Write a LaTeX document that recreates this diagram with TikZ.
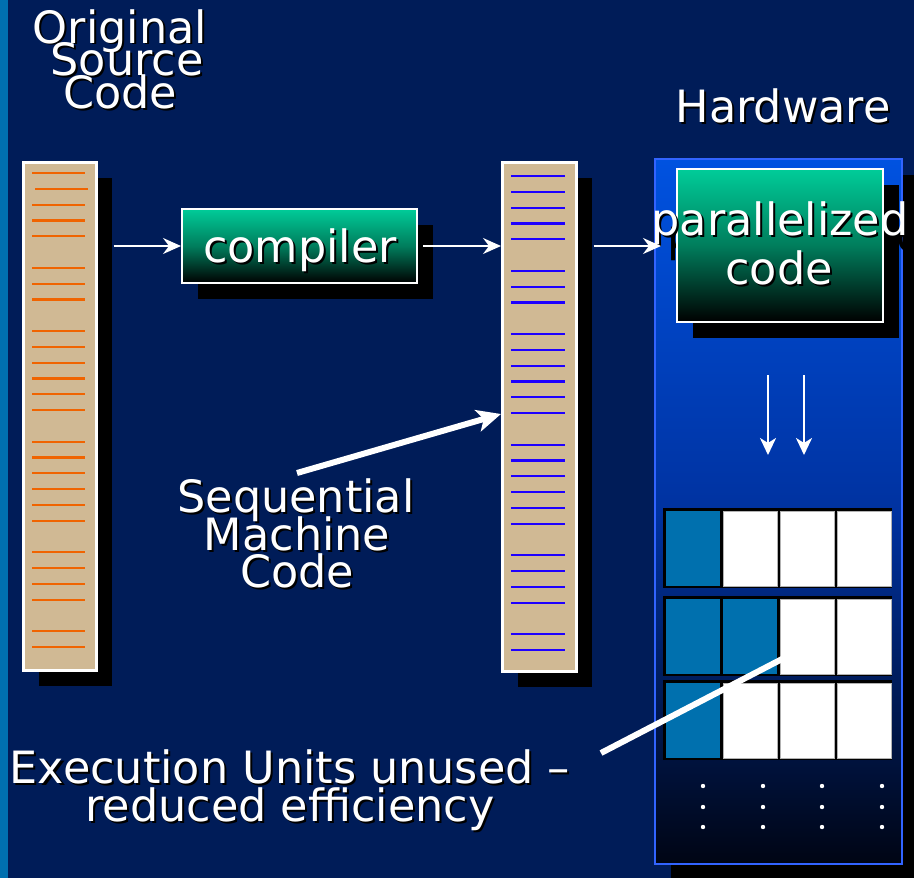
\documentclass[tikz,border=0pt]{standalone}
\usepackage{fontspec}
\setmainfont{DejaVu Sans}
\usetikzlibrary{arrows.meta,shadows}
\definecolor{bg}{RGB}{0,28,88}
\definecolor{strip}{RGB}{0,112,176}
\definecolor{tanfill}{RGB}{208,185,148}
\definecolor{orng}{RGB}{240,100,0}
\definecolor{blu}{RGB}{30,0,255}
\definecolor{gteal}{RGB}{0,204,153}
\definecolor{gmid}{RGB}{0,125,92}
\definecolor{hwtop}{RGB}{0,82,224}
\definecolor{hwmid}{RGB}{0,50,160}
\definecolor{hwbot}{RGB}{0,5,20}
\definecolor{hwedge}{RGB}{50,100,255}
\definecolor{cellblue}{RGB}{0,112,174}
\newcommand\shtxt[4]{%
  \node[txt,black] (#1s) at ({#2+2},{#3+2}) {#4};
  \node[txt,white] (#1) at (#2,#3) {#4};}
\begin{document}
\begin{tikzpicture}[x=1pt,y=-1pt,
  txt/.style={font=\fontsize{44.5}{44.5}\selectfont, inner sep=0pt, anchor=base},
  shd/.style={drop shadow={shadow xshift=16pt, shadow yshift=-16pt, opacity=1, fill=black}},
  col/.style={draw=white, fill=tanfill, line width=2.5pt, inner sep=0pt, anchor=north west, shd},
  gbox/.style={draw=white, line width=2pt, inner sep=0pt, top color=gteal, bottom color=black, middle color=gmid},
  oline/.style={orng, line width=2.2pt},
  bline/.style={blu, line width=2.2pt},
  thinarrow/.style={white, line width=2pt, -{Stealth[length=18pt,width=16pt,inset=6pt]}},
  downarrow/.style={white, line width=2.5pt, -{Stealth[length=17pt,width=16pt,inset=5pt]}},
  thickline/.style={white, line width=6pt},
  cell/.style={inner sep=0pt, minimum width=54.6pt, minimum height=75pt, anchor=north west},
  wcell/.style={cell, fill=white, draw=gray!60, line width=0.8pt},
  bcell/.style={cell, fill=cellblue},
]
\useasboundingbox (0,0) rectangle (914,878);
\fill[bg] (0,0) rectangle (914,878);
\fill[strip] (0,0) rectangle (8,878);

% titles
\shtxt{t1}{120}{43}{Original}
\shtxt{t2}{127}{75}{Source}
\shtxt{t3}{120}{108}{Code}
\shtxt{hwl}{783}{122}{Hardware}

% source code column
\node[col, minimum width=73pt, minimum height=508pt] (src) at (22,161) {};
\foreach \i in {0,2,3,4,6,7,8,10,11,12,13,14,15,17,18,19,20,21,22,24,25,26,27,29,30}
  \draw[oline] (32,{173+15.8*\i}) -- (85,{173+15.8*\i});
\draw[oline] (35,188.8) -- (88,188.8);

% machine code column
\node[col, minimum width=74pt, minimum height=509pt] (mach) at (501,161) {};
\foreach \i in {0,1,2,3,4,6,7,8,10,11,12,13,14,15,17,18,19,20,21,22,24,25,26,27,29,30}
  \draw[bline] (511,{176+15.8*\i}) -- (565,{176+15.8*\i});

% compiler
\node[gbox, shd, minimum width=235pt, minimum height=74pt] (comp) at (299.5,246) {};
\shtxt{compt}{300}{262}{compiler}

% hardware box
\node[draw=hwedge, line width=2pt, inner sep=0pt, top color=hwtop, bottom color=hwbot, middle color=hwmid, shd,
      minimum width=247pt, minimum height=705pt] (hw) at (778.5,511.5) {};

% parallelized code box
\node[txt,black] (p1b) at (796,251) {parallelized};
\node[txt,black] (p2b) at (795,300) {code};
\node[gbox, shd, minimum width=206pt, minimum height=153pt] (par) at (780,245.5) {};
\shtxt{p1}{780}{235}{parallelized}
\shtxt{p2}{779}{284}{code}

% horizontal arrows
\draw[thinarrow] ([xshift=16pt]src.east |- comp.west) -- (comp.west);
\draw[thinarrow] ([xshift=5pt]comp.east) -- (comp.east -| mach.west);
\draw[thinarrow] ([xshift=16pt]mach.east |- comp.east) -- ([xshift=7pt]comp.east -| hw.west);

% down arrows
\coordinate (d1a) at (768,375); \coordinate (d1b) at (768,455);
\coordinate (d2a) at (804,375); \coordinate (d2b) at (804,455);
\draw[downarrow] (d1a) -- (d1b);
\draw[downarrow] (d2a) -- (d2b);

% execution units grid
\foreach \r/\yt/\pat in {1/508/{bcell,wcell,wcell,wcell},2/596/{bcell,bcell,wcell,wcell},3/680/{bcell,wcell,wcell,wcell}}{
  \fill[black] (663,\yt) rectangle (892,{\yt+80});
  \foreach \k [count=\c from 0] in \pat
    \node[\k] (u\r\c) at ({665.5+57.1*\c},{\yt+2.5}) {};
}
\foreach \x in {703,763,822,882}
  \foreach \y in {786,807,827}
    \fill[white] (\x,\y) circle (2.2);

% sequential machine code label + pointer
\shtxt{s1}{296}{512}{Sequential}
\shtxt{s2}{297}{550}{Machine}
\shtxt{s3}{297}{587}{Code}
\coordinate (sqa) at (297,473);
\coordinate (sqb) at (mach.west |- 0,414);
\draw[thickline, -{Stealth[length=24pt,width=22pt,inset=6pt]}] (sqa) -- (sqb);

% execution units label + pointer
\shtxt{e1}{290}{783}{Execution Units unused –}
\shtxt{e2}{290}{821}{reduced efficiency}
\coordinate (exa) at (601,753);
\coordinate (exb) at (784,658);
\draw[thickline] (exa) -- (exb);
\end{tikzpicture}
\end{document}
